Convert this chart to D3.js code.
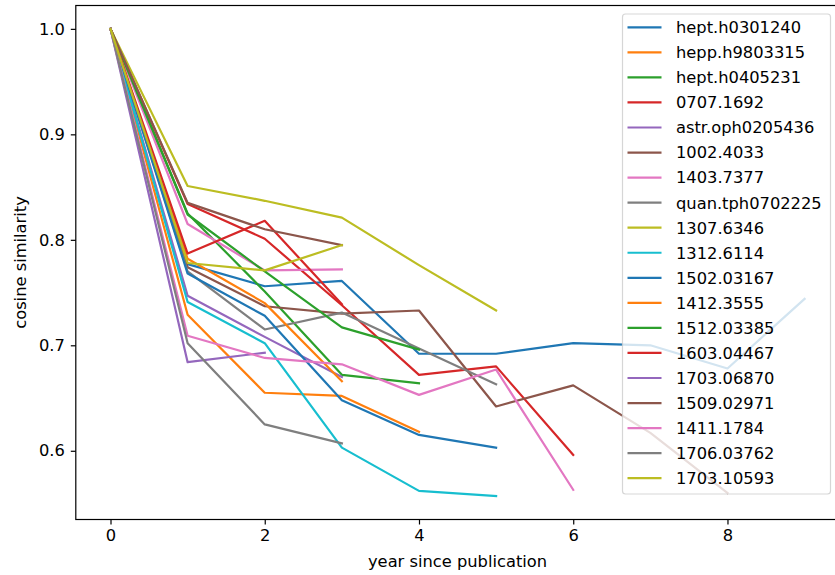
<!DOCTYPE html>
<html><head><meta charset="utf-8">
<script src="https://cdn.jsdelivr.net/npm/d3@7"></script>
<style>body{margin:0;background:#fff}svg{display:block}text{font-family:"DejaVu Sans",sans-serif;fill:#000}</style>
</head><body><svg id="c" width="835" height="575"></svg>
<script>
// ---- data ----
const names = ["hept.h0301240","hepp.h9803315","hept.h0405231","0707.1692","astr.oph0205436",
  "1002.4033","1403.7377","quan.tph0702225","1307.6346","1312.6114","1502.03167","1412.3555",
  "1512.03385","1603.04467","1703.06870","1509.02971","1411.1784","1706.03762","1703.10593"];
const s_hept_h0301240   = [1.0, 0.777, 0.756, 0.761, 0.692, 0.692, 0.702, 0.700, 0.678, 0.744];
const s_hepp_h9803315   = [1.0, 0.729, 0.655, 0.652, 0.618];
const s_hept_h0405231   = [1.0, 0.825, 0.751, 0.672, 0.664];
const s_0707_1692       = [1.0, 0.834, 0.801, 0.738, 0.672, 0.680, 0.596];
const s_astr_oph0205436 = [1.0, 0.747, 0.708, 0.670];
const s_1002_4033       = [1.0, 0.774, 0.737, 0.730, 0.733, 0.642, 0.662, 0.617, 0.560];
const s_1403_7377       = [1.0, 0.815, 0.771, 0.772];
const s_quan_tph0702225 = [1.0, 0.770, 0.715, 0.731, 0.697, 0.663];
const s_1307_6346       = [1.0, 0.851, 0.837, 0.821, 0.776, 0.733];
const s_1312_6114       = [1.0, 0.741, 0.702, 0.603, 0.562, 0.557];
const s_1502_03167      = [1.0, 0.768, 0.728, 0.648, 0.615, 0.603];
const s_1412_3555       = [1.0, 0.782, 0.740, 0.666];
const s_1512_03385      = [1.0, 0.824, 0.770, 0.717, 0.696];
const s_1603_04467      = [1.0, 0.787, 0.818, 0.739];
const s_1703_06870      = [1.0, 0.684, 0.693];
const s_1509_02971      = [1.0, 0.835, 0.810, 0.795];
const s_1411_1784       = [1.0, 0.709, 0.688, 0.682, 0.653, 0.677, 0.563];
const s_1706_03762      = [1.0, 0.702, 0.625, 0.607];
const s_1703_10593      = [1.0, 0.778, 0.771, 0.795];
const values = [s_hept_h0301240,s_hepp_h9803315,s_hept_h0405231,s_0707_1692,s_astr_oph0205436,
  s_1002_4033,s_1403_7377,s_quan_tph0702225,s_1307_6346,s_1312_6114,s_1502_03167,s_1412_3555,
  s_1512_03385,s_1603_04467,s_1703_06870,s_1509_02971,s_1411_1784,s_1706_03762,s_1703_10593];
const xTicks = [0, 2, 4, 6, 8];
const yTicks = [0.6, 0.7, 0.8, 0.9, 1.0];
const xLabel = "year since publication";
const yLabel = "cosine similarity";
const palette = ["#1f77b4","#ff7f0e","#2ca02c","#d62728","#9467bd","#8c564b","#e377c2","#7f7f7f","#bcbd22","#17becf"];

// ---- layout ----
const svg = d3.select("#c");
const L = 75.8, R = 839.3, T = 5.5, B = 519.5;
const all = values.flat();
const xMax = d3.max(values, v => v.length - 1);
const yMin = d3.min(all), yMax = d3.max(all);
const yPad = (yMax - yMin) * 0.05, xPad = xMax * 0.05;
const x = d3.scaleLinear().domain([-xPad, xMax + xPad]).range([L, R]);
const y = d3.scaleLinear().domain([yMin - yPad, yMax + yPad]).range([B, T]);

svg.append("defs").append("clipPath").attr("id","clip")
  .append("rect").attr("x",L).attr("y",T).attr("width",R-L).attr("height",B-T);

const line = d3.line().x((d,i)=>x(i)).y(d=>y(d));
const g = svg.append("g").attr("clip-path","url(#clip)");
values.forEach((v,i)=>{
  g.append("path").attr("d",line(v)).attr("fill","none")
   .attr("stroke",palette[i%10]).attr("stroke-width",2.2)
   .attr("stroke-linejoin","round").attr("stroke-linecap","square");
});

// axes
const fs = "16.3px";
const xAxis = d3.axisBottom(x).tickValues(xTicks).tickFormat(d3.format("d")).tickSize(5).tickPadding(5);
const yAxis = d3.axisLeft(y).tickValues(yTicks).tickFormat(d3.format(".1f")).tickSize(5).tickPadding(6);
const gx = svg.append("g").attr("transform",`translate(0,${B})`).call(xAxis);
const gy = svg.append("g").attr("transform",`translate(${L},0)`).call(yAxis);
[gx,gy].forEach(a=>{
  a.select(".domain").remove();
  a.selectAll(".tick line").attr("stroke","#000").attr("stroke-width",1.2);
  a.selectAll(".tick text").style("font-size",fs).style("font-family","DejaVu Sans");
});
// spines
svg.append("rect").attr("x",L).attr("y",T).attr("width",R-L).attr("height",B-T)
  .attr("fill","none").attr("stroke","#000").attr("stroke-width",1.2);

svg.append("text").attr("x",(L+R)/2).attr("y",567).attr("text-anchor","middle")
  .style("font-size",fs).text(xLabel);
svg.append("text").attr("transform",`translate(26,${(T+B)/2}) rotate(-90)`).attr("text-anchor","middle")
  .style("font-size",fs).text(yLabel);

// legend
const lg = svg.append("g");
const lx = 622.5, ly = 14, lw = 208, lh = 480;
lg.append("rect").attr("x",lx).attr("y",ly).attr("width",lw).attr("height",lh).attr("rx",3)
  .attr("fill","#fff").attr("fill-opacity",0.8).attr("stroke","#cccccc").attr("stroke-opacity",0.8).attr("stroke-width",1.2);
names.forEach((n,i)=>{
  const yy = 27.3 + i*25.05;
  lg.append("line").attr("x1",627.5).attr("x2",661.5).attr("y1",yy).attr("y2",yy)
    .attr("stroke",palette[i%10]).attr("stroke-width",2.2);
  lg.append("text").attr("x",676).attr("y",yy).attr("dy","0.36em").style("font-size",fs).text(n);
});
</script></body></html>
